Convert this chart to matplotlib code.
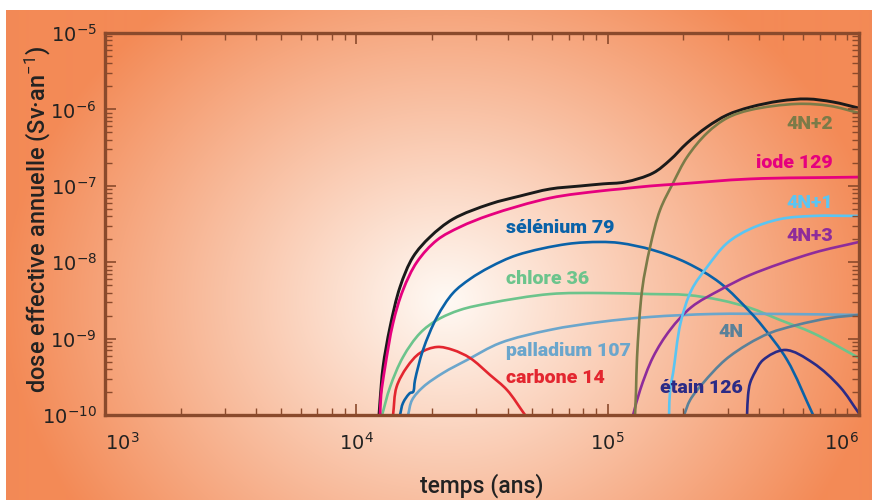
import numpy as np
import matplotlib.pyplot as plt
from matplotlib.path import Path
from matplotlib.patches import PathPatch
from matplotlib.ticker import LogLocator, NullFormatter

plt.rcParams['mathtext.fontset'] = 'custom'
plt.rcParams['mathtext.rm'] = 'Roboto'
plt.rcParams['mathtext.it'] = 'Roboto:italic'
plt.rcParams['mathtext.bf'] = 'Roboto:bold'

# temps (ans) / dose (Sv/an)
total_t = [1.231e4, 1.243e4, 1.277e4, 1.362e4, 1.492e4, 1.681e4, 1.965e4, 2.425e4, 3.405e4,
           4.481e4, 5.899e4, 7.767e4, 9.59e4, 1.173e5, 1.516e5, 1.772e5, 2.070e5, 2.486e5,
           2.987e5, 3.687e5, 4.855e5, 6.218e5, 7.888e5, 1e6]
total_d = [1.0e-10, 1.57e-10, 4.25e-10, 1.42e-9, 4.73e-9, 1.17e-8, 2.14e-8, 3.67e-8, 5.78e-8,
           7.35e-8, 9.08e-8, 9.94e-8, 1.06e-7, 1.12e-7, 1.47e-7, 2.18e-7, 3.63e-7, 5.89e-7,
           8.45e-7, 1.07e-6, 1.29e-6, 1.37e-6, 1.25e-6, 1.04e-6]

iode_t = [1.243e4, 1.254e4, 1.301e4, 1.400e4, 1.534e4, 1.744e4, 2.095e4, 2.586e4, 3.405e4,
          5.899e4, 9.33e4, 1.121e5, 1.475e5, 1.942e5, 3.687e5, 1e6]
iode_d = [1.0e-10, 1.83e-10, 4.25e-10, 1.60e-9, 4.33e-9, 1.01e-8, 1.95e-8, 2.89e-8, 4.15e-8,
          6.92e-8, 8.55e-8, 9.08e-8, 9.94e-8, 1.06e-7, 1.23e-7, 1.30e-7]

chlore_t = [1.266e4, 1.362e4, 1.534e4, 1.793e4, 2.095e4, 2.586e4, 3.405e4, 5.899e4, 9.33e4,
            1.475e5, 2.070e5, 2.801e5, 3.687e5, 4.855e5, 6.567e5, 1e6]
chlore_d = [1.0e-10, 2.32e-10, 5.74e-10, 1.18e-9, 1.75e-9, 2.37e-9, 2.92e-9, 3.83e-9, 3.95e-9,
            3.83e-9, 3.72e-9, 3.20e-9, 2.52e-9, 1.75e-9, 1.18e-9, 5.57e-10]

carbone_t = [1.400e4, 1.445e4, 1.591e4, 1.793e4, 2.095e4, 2.425e4, 2.834e4, 3.405e4, 3.979e4, 4.692e4]
carbone_d = [1.0e-10, 2.32e-10, 4.25e-10, 6.49e-10, 7.77e-10, 7.10e-10, 5.57e-10, 3.34e-10,
             2.12e-10, 1.0e-10]

selenium_t = [1.492e4, 1.534e4, 1.636e4, 1.681e4, 1.712e4, 1.842e4, 2.095e4, 2.425e4, 2.834e4,
              3.405e4, 4.360e4, 6.893e4, 9.33e4, 1.121e5, 1.516e5, 2.070e5, 2.801e5, 3.687e5,
              4.153e5, 5.176e5, 6.567e5]
selenium_d = [1.0e-10, 1.44e-10, 1.94e-10, 2.00e-10, 2.87e-10, 7.10e-10, 1.92e-9, 3.95e-9,
              6.03e-9, 8.65e-9, 1.24e-8, 1.73e-8, 1.84e-8, 1.78e-8, 1.44e-8, 9.77e-9, 5.35e-9,
              2.23e-9, 1.42e-9, 5.25e-10, 1.0e-10]

palladium_t = [1.606e4, 1.666e4, 1.842e4, 2.213e4, 2.758e4, 3.731e4, 5.899e4, 9.33e4, 1.475e5,
               2.627e5, 4.855e5, 1e6]
palladium_d = [1.0e-10, 1.57e-10, 2.32e-10, 3.55e-10, 5.25e-10, 8.75e-10, 1.30e-9, 1.65e-9,
               1.92e-9, 2.10e-9, 2.10e-9, 2.04e-9]

n42_t = [1.285e5, 1.297e5, 1.309e5, 1.371e5, 1.475e5, 1.616e5, 1.821e5, 2.070e5, 2.486e5,
         2.987e5, 3.687e5, 5.672e5, 7.674e5, 1e6]
n42_d = [1.0e-10, 2.12e-10, 5.74e-10, 4.33e-9, 1.58e-8, 4.82e-8, 1.09e-7, 2.38e-7, 4.91e-7,
         7.71e-7, 9.82e-7, 1.18e-6, 1.11e-6, 8.97e-7]

n41_t = [1.755e5, 1.772e5, 1.821e5, 1.950e5, 2.156e5, 2.486e5, 2.987e5, 3.687e5, 4.855e5, 6.567e5, 1e6]
n41_d = [1.0e-10, 2.12e-10, 3.55e-10, 1.60e-9, 4.33e-9, 8.65e-9, 1.78e-8, 2.72e-8, 3.67e-8,
         4.03e-8, 4.03e-8]

n43_t = [1.262e5, 1.346e5, 1.516e5, 1.772e5, 2.156e5, 2.801e5, 3.687e5, 6.567e5, 1e6]
n43_d = [1.0e-10, 2.12e-10, 5.74e-10, 1.30e-9, 2.59e-9, 4.33e-9, 6.80e-9, 1.32e-8, 1.84e-8]

n4_t = [2.014e5, 2.128e5, 2.397e5, 2.933e5, 3.620e5, 4.409e5, 5.672e5, 7.674e5, 1e6]
n4_d = [1.0e-10, 1.57e-10, 2.62e-10, 5.25e-10, 8.49e-10, 1.18e-9, 1.51e-9, 1.86e-9, 2.04e-9]

etain_t = [3.586e5, 3.620e5, 3.687e5, 3.861e5, 4.153e5, 5.082e5, 6.567e5, 8.411e5, 1e6]
etain_d = [1.0e-10, 1.83e-10, 2.62e-10, 3.66e-10, 5.25e-10, 7.10e-10, 4.80e-10, 2.32e-10, 1.05e-10]

W, H = 872, 500
fig = plt.figure(figsize=(W / 100, H / 100), dpi=100, facecolor='white')

# orange radial background
bg = fig.add_axes([6 / W, 0, (W - 6) / W, (H - 10) / H])
yy, xx = np.mgrid[10:H, 6:W]
r = np.sqrt(((xx - 445) / 440.0) ** 2 + ((yy - 300) / 380.0) ** 2)
r = np.clip(r, 0, 1)
c0 = np.array([255, 250, 245]) / 255.0
c1 = np.array([243, 138, 86]) / 255.0
img = c0 + (c1 - c0) * r[..., None]
bg.imshow(img, aspect='auto', interpolation='bilinear')
bg.axis('off')

ax = fig.add_axes([105 / W, 1 - 415 / H, (859 - 105) / W, (415 - 33) / H])
ax.set_facecolor('none')
ax.set_xscale('log')
ax.set_yscale('log')
ax.set_xlim(1e3, 1e6)
ax.set_ylim(1e-10, 1e-5)

# px per decade, so the smoothing works in screen-like proportions
KX, KY = 251.3, 76.4


def smooth_curve(t, d):
    # centripetal Catmull-Rom through the read points, drawn as cubic Bezier
    P = np.column_stack([np.log10(t) * KX, np.log10(d) * KY])
    P = np.vstack([2 * P[0] - P[1], P, 2 * P[-1] - P[-2]])
    verts = [P[1]]
    codes = [Path.MOVETO]
    for i in range(1, len(P) - 2):
        p0, p1, p2, p3 = P[i - 1], P[i], P[i + 1], P[i + 2]
        d1 = np.linalg.norm(p1 - p0) ** 0.5
        d2 = np.linalg.norm(p2 - p1) ** 0.5
        d3 = np.linalg.norm(p3 - p2) ** 0.5
        b1 = (d1 ** 2 * p2 - d2 ** 2 * p0 + (2 * d1 ** 2 + 3 * d1 * d2 + d2 ** 2) * p1) / (3 * d1 * (d1 + d2))
        b2 = (d3 ** 2 * p1 - d2 ** 2 * p3 + (2 * d3 ** 2 + 3 * d3 * d2 + d2 ** 2) * p2) / (3 * d3 * (d3 + d2))
        verts += [b1, b2, p2]
        codes += [Path.CURVE4] * 3
    v = np.array(verts)
    v = np.column_stack([10 ** (v[:, 0] / KX), 10 ** (v[:, 1] / KY)])
    return Path(v, codes)


curves = [
    (chlore_t, chlore_d, '#6cc48c', 1.9),
    (palladium_t, palladium_d, '#6ba6cc', 1.9),
    (carbone_t, carbone_d, '#e3262f', 1.9),
    (selenium_t, selenium_d, '#0a62a8', 1.9),
    (n4_t, n4_d, '#5a8199', 1.9),
    (n43_t, n43_d, '#8e2c9b', 1.9),
    (n41_t, n41_d, '#5bc5f2', 1.9),
    (etain_t, etain_d, '#2b2b86', 1.9),
    (total_t, total_d, '#1a1a1a', 2.1),
    (n42_t, n42_d, '#7b7b48', 1.9),
    (iode_t, iode_d, '#e6007e', 2.0),
]
for t, d, col, lw in curves:
    ax.add_patch(PathPatch(smooth_curve(t, d), fill=False, edgecolor=col, lw=lw,
                           capstyle='butt', joinstyle='round'))

lab = dict(fontfamily='Roboto', fontweight='heavy', fontsize=14, va='center')
ax.text(3.94e4, 2.80e-8, 'sélénium 79', color='#0a62a8', ha='left', **lab)
ax.text(3.94e4, 6.03e-9, 'chlore 36', color='#6cc48c', ha='left', **lab)
ax.text(3.94e4, 6.89e-10, 'palladium 107', color='#6ba6cc', ha='left', **lab)
ax.text(3.94e4, 3.05e-10, 'carbone 14', color='#e3262f', ha='left', **lab)
ax.text(7.89e5, 6.44e-7, '4N+2', color='#7b7b48', ha='right', **lab)
ax.text(7.89e5, 1.99e-7, 'iode 129', color='#e6007e', ha='right', **lab)
ax.text(7.89e5, 5.96e-8, '4N+1', color='#5bc5f2', ha='right', **lab)
ax.text(7.89e5, 2.20e-8, '4N+3', color='#8e2c9b', ha='right', **lab)
ax.text(2.75e5, 1.22e-9, '4N', color='#5a8199', ha='left', **lab)
ax.text(1.616e5, 2.25e-10, 'étain 126', color='#2b2b86', ha='left', **lab)

brown = '#8a4a2c'
for s in ax.spines.values():
    s.set_color(brown)
    s.set_linewidth(2.4)

ax.xaxis.set_minor_locator(LogLocator(base=10, subs=np.arange(2, 10)))
ax.yaxis.set_minor_locator(LogLocator(base=10, subs=np.arange(2, 10), numticks=20))
ax.xaxis.set_minor_formatter(NullFormatter())
ax.yaxis.set_minor_formatter(NullFormatter())
ax.set_xticks([1e3, 1e4, 1e5, 1e6])
ax.set_xticklabels([r'$\mathregular{10^{3}}$', r'$\mathregular{10^{4}}$',
                    r'$\mathregular{10^{5}}$', r'$\mathregular{10^{6}}$'])
ax.set_yticks([1e-10, 1e-9, 1e-8, 1e-7, 1e-6, 1e-5])
ax.set_yticklabels([r'$\mathregular{10^{-10}}$', r'$\mathregular{10^{-9}}$',
                    r'$\mathregular{10^{-8}}$', r'$\mathregular{10^{-7}}$',
                    r'$\mathregular{10^{-6}}$', r'$\mathregular{10^{-5}}$'])
ax.tick_params(which='both', direction='in', top=True, right=True, color=brown,
               labelcolor='#222222', labelsize=14)
ax.tick_params(which='major', length=8, width=1.2)
ax.tick_params(which='minor', length=5, width=1.0)
ax.tick_params(axis='x', pad=12)
ax.tick_params(axis='y', pad=6)
xl = ax.get_xticklabels()
xl[0].set_ha('left')
xl[-1].set_ha('right')

fig.text(482 / W, 1 - 486 / H, 'temps (ans)', fontfamily='Roboto', fontsize=16.5,
         fontweight='medium', color='#222222', ha='center', va='center')
fig.text(38 / W, 1 - 219 / H, 'dose effective annuelle (Sv·an$^{-1}$)', fontfamily='Roboto',
         fontsize=17, fontweight='medium', color='#222222', ha='center', va='center', rotation=90)

fig.savefig('out.png', dpi=100, facecolor='white')
